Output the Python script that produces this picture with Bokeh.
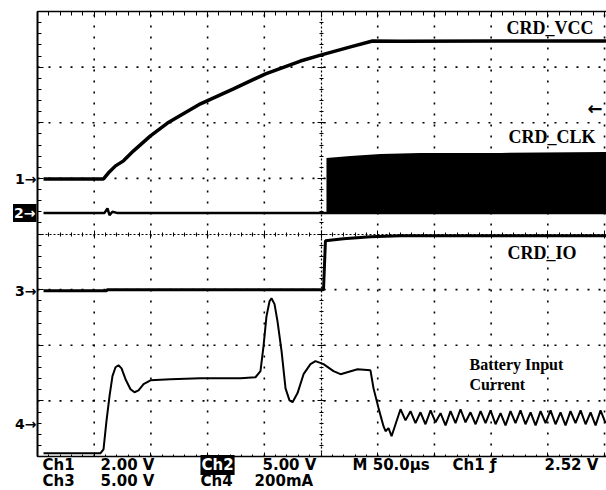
from bokeh.plotting import figure
from bokeh.models import Range1d, LinearAxis, SingleIntervalTicker, Label
from bokeh.embed import file_html
from bokeh.resources import INLINE

# ---- scope settings (time in microseconds from left screen edge, 50 us/div) ----
CH1_POS, CH1_SCALE = 0.99, 2.0      # divisions, V/div
CH2_POS, CH2_SCALE = 0.38, 5.0
CH3_POS, CH3_SCALE = -1.02, 5.0
CH4_POS, CH4_SCALE = -3.42, 200.0   # divisions, mA/div
TRIG_LEVEL = 2.52                   # V on Ch1

# graticule (10 x 8 divisions)
GRID_T = [50, 100, 150, 200, 300, 350, 400, 450, 500]
GRID_Y = [-3, -2, -1, 1, 2, 3]

# ---- CH1: CRD_VCC (V) ----
vcc_t = [5.3, 58.2, 62.6, 68.8, 75.8, 84.7, 99.6, 114.6, 143.7, 172.8, 201.1,
         231.9, 250.4, 276.0, 295.4, 320.1, 408.3, 502.0]
vcc_v = [0, 0, 0.22, 0.47, 0.65, 1.01, 1.55, 2.01, 2.70, 3.24, 3.78,
         4.24, 4.46, 4.75, 4.96, 4.95, 4.96, 4.96]

# ---- CH2: CRD_CLK (V): idle level and envelope of the dense clock ----
clk_t = [5.3, 59.1, 61.7, 63.5, 66.1, 70.0, 502.0]
clk_v = [0, 0, 0.4, -0.2, 0.1, 0, 0]
clk_env_t = [254.8, 276.0, 302.5, 337.7, 408.3, 502.0]
clk_env_hi = [4.94, 5.12, 5.30, 5.39, 5.39, 5.48]
clk_env_lo = [0, 0, 0, 0, 0, 0]

# ---- CH3: CRD_IO (V) ----
io_t = [5.3, 60.8, 61.5, 252.2, 253.9, 269.8, 293.6, 320.1, 502.0]
io_v = [0, 0, 0.09, 0.09, 4.50, 4.68, 4.85, 4.94, 4.94]

# ---- CH4: Battery input current (mA) ----
cur_t = [5.3, 55.6, 58.2, 60.8, 63.5, 66.1, 68.8, 71.4, 74.1, 77.6,
         82.0, 85.5, 89.1, 93.5, 99.6, 117.3, 143.7, 179.0, 192.2, 196.6,
         199.3, 201.9, 204.6, 206.3, 209.0, 211.6, 215.2, 218.7, 222.2, 224.9,
         229.3, 234.6, 240.7, 245.1, 252.2, 261.0, 267.2, 282.2, 293.6, 296.3,
         300.7, 305.1, 306.9, 309.5, 312.2, 315.7,
         320.1, 324.5, 328.9, 333.3, 337.7, 342.1, 346.6, 351.0, 355.4, 359.8,
         364.2, 368.6, 373.0, 377.4, 381.8, 386.3, 390.7, 395.1, 399.5, 403.9,
         408.3, 412.7, 417.1, 421.5, 425.9, 430.3, 434.8, 439.2, 443.6, 448.0,
         452.4, 456.8, 461.2, 465.6, 470.0, 474.4, 478.9, 483.3, 487.7, 492.1,
         496.5, 500.9]
cur_ma = [-104, -104, -90, 11, 101, 173, 205, 212, 201, 162,
          126, 115, 122, 144, 158, 162, 165, 165, 169, 191,
          281, 388, 442, 453, 432, 371, 263, 129, 86, 79,
          112, 180, 216, 227, 216, 191, 180, 198, 194, 129,
          58, -7, -25, -14, -43, 0,
          54, 14, 47, 4, 43, 0, 50, 7, 40, -4,
          47, 4, 54, 7, 43, 0, 47, 4, 50, 0,
          40, -4, 47, 4, 50, 0, 43, -4, 47, 4,
          50, 0, 43, -4, 47, 4, 50, 0, 43, -4,
          50, 4]

# ---- readout texts ----
readout_row1 = [("Ch1", 4.4), ("2.00 V", 55.6), ("5.00 V", 198.4),
                ("M 50.0\u00b5s", 277.8), ("Ch1 \u0192", 366.0), ("2.52 V", 447.1)]
readout_row2 = [("Ch3", 4.4), ("5.00 V", 55.6), ("Ch4", 143.7), ("200mA", 191.4)]
ROW1_Y, ROW2_Y = -4.153, -4.440


def to_div(vals, pos, scale):
    return [pos + v / scale for v in vals]


p = figure(width=606, height=490, x_range=Range1d(-32.63, 501.73), y_range=Range1d(-4.611, 4.198),
           output_backend="svg", toolbar_location=None,
           x_axis_location=None, y_axis_location=None,
           min_border_left=0, min_border_right=0, min_border_top=0, min_border_bottom=0,
           background_fill_color="white", border_fill_color="white")
p.outline_line_color = None
p.grid.visible = False

# dotted graticule lines
p.segment(x0=GRID_T, y0=[-4] * len(GRID_T), x1=GRID_T, y1=[4] * len(GRID_T),
          line_color="black", line_width=1.6, line_dash="2 9")
p.segment(x0=[0] * len(GRID_Y), y0=GRID_Y, x1=[500] * len(GRID_Y), y1=GRID_Y,
          line_color="black", line_width=1.6, line_dash="2 9")


def frame_axis(side, loc, interval, bounds, tin, tout, min_in, min_out, width, dash="solid"):
    ax = LinearAxis(fixed_location=loc, bounds=bounds,
                    ticker=SingleIntervalTicker(interval=interval, num_minor_ticks=5),
                    major_label_text_font_size="0px", major_label_text_alpha=0,
                    major_label_standoff=0,
                    axis_line_width=width, axis_line_dash=dash, axis_line_color="black",
                    major_tick_in=tin, major_tick_out=tout,
                    minor_tick_in=min_in, minor_tick_out=min_out,
                    major_tick_line_color="black", minor_tick_line_color="black",
                    major_tick_line_width=1, minor_tick_line_width=1)
    p.add_layout(ax, side)


frame_axis("left", 0, 1, (-4, 4), 6, 0, 4, 0, 2)
frame_axis("above", 4, 50, (0, 502), 6, 0, 4, 0, 1.5)
frame_axis("below", -4, 50, (0, 502), 4, 0, 2, 0, 1.5)
frame_axis("left", 250, 1, (-4, 4), 4, 4, 2, 2, 1.2, "2 2")
frame_axis("below", 0, 50, (0, 502), 4, 4, 2, 2, 1.2, "2 2")

# traces
p.varea(x=clk_env_t, y1=to_div(clk_env_lo, CH2_POS, CH2_SCALE),
        y2=to_div(clk_env_hi, CH2_POS, CH2_SCALE), fill_color="black")
p.line(clk_t, to_div(clk_v, CH2_POS, CH2_SCALE), line_color="black", line_width=2.5)
p.line(vcc_t, to_div(vcc_v, CH1_POS, CH1_SCALE), line_color="black", line_width=3.5)
p.line(io_t, to_div(io_v, CH3_POS, CH3_SCALE), line_color="black", line_width=3)
p.line(cur_t, to_div(cur_ma, CH4_POS, CH4_SCALE), line_color="black", line_width=2)

# trace names
serif = "Liberation Serif"
for txt, x, y, fs in [("CRD_VCC", 413.6, 3.695, "18px"), ("CRD_CLK", 415.3, 1.753, "18px"),
                      ("CRD_IO", 414.5, -0.350, "18px"),
                      ("Battery Input", 380.9, -2.346, "16px"), ("Current", 380.9, -2.705, "16px")]:
    p.add_layout(Label(x=x, y=y, text=txt, text_font=serif, text_font_style="bold",
                       text_font_size=fs, text_color="black", text_baseline="middle"))

# channel ground markers
sans = "DejaVu Sans"
for txt, pos, inv in [("1\u2192", CH1_POS, False), ("2\u2192", CH2_POS, True),
                      ("3\u2192", CH3_POS, False), ("4\u2192", CH4_POS, False)]:
    kw = dict(background_fill_color="black", padding=1) if inv else {}
    p.add_layout(Label(x=-0.9, y=pos, text=txt, text_font=sans, text_font_style="bold",
                       text_font_size="14px", text_color="white" if inv else "black",
                       text_align="right", text_baseline="middle", **kw))

# trigger level arrow
p.add_layout(Label(x=485.0, y=CH1_POS + TRIG_LEVEL / CH1_SCALE, text="\u2190",
                   text_font=sans, text_font_style="bold", text_font_size="18px",
                   text_color="black", text_align="left", text_baseline="middle"))

# readouts
for txt, x in readout_row1:
    p.add_layout(Label(x=x, y=ROW1_Y, text=txt, text_font=sans, text_font_style="bold",
                       text_font_size="15px", text_color="black", text_baseline="middle"))
p.add_layout(Label(x=143.7, y=ROW1_Y, text="Ch2", text_font=sans, text_font_style="bold",
                   text_font_size="15px", text_color="white", text_baseline="middle",
                   background_fill_color="black", padding=1))
for txt, x in readout_row2:
    p.add_layout(Label(x=x, y=ROW2_Y, text=txt, text_font=sans, text_font_style="bold",
                       text_font_size="15px", text_color="black", text_baseline="middle"))

open("out.html", "w").write(file_html(p, INLINE))
